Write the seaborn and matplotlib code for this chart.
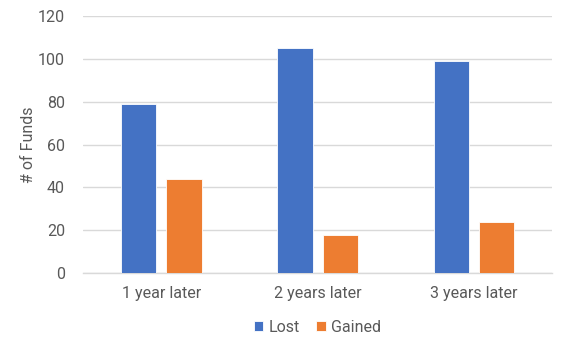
import matplotlib
matplotlib.use("Agg")
import matplotlib.pyplot as plt
import seaborn as sns
import pandas as pd

# Data
periods = ["1 year later", "2 years later", "3 years later"]
lost = [79, 105, 99]
gained = [44, 18, 24]
series_names = ["Lost", "Gained"]
y_ticks = [0, 20, 40, 60, 80, 100, 120]

df = pd.DataFrame({
    "period": periods * 2,
    "count": lost + gained,
    "status": [series_names[0]] * 3 + [series_names[1]] * 3,
})

sns.set_style("white")
plt.rcParams["font.family"] = ["Roboto", "DejaVu Sans"]
text_color = "#595959"
fs = 11.5

fig = plt.figure(figsize=(5.65, 3.51), dpi=100)
ax = fig.add_axes([0.147, 0.222, 0.83, 0.732])

sns.barplot(data=df, x="period", y="count", hue="status",
            palette=["#4472C4", "#ED7D31"], saturation=1,
            width=0.58, gap=0.22, edgecolor="white", linewidth=0.6,
            ax=ax, zorder=3)

ax.set_ylim(0, 120)
ax.set_xlim(-0.5, 2.5)
ax.set_yticks(y_ticks)
ax.yaxis.grid(True, color="#D9D9D9", linewidth=1, zorder=0)
ax.set_axisbelow(True)
for side in ["top", "right", "left"]:
    ax.spines[side].set_visible(False)
ax.spines["bottom"].set_color("#D9D9D9")
ax.spines["bottom"].set_linewidth(1)
ax.tick_params(axis="both", length=0, labelsize=fs, colors=text_color)
ax.tick_params(axis="y", pad=13)
ax.tick_params(axis="x", pad=9)
ax.set_xlabel("")
ax.set_ylabel("# of Funds", fontsize=fs, color=text_color, labelpad=1)

ax.legend(loc="center", bbox_to_anchor=(0.5, -0.21), ncol=2,
          frameon=False, fontsize=fs, handlelength=0.6, handleheight=0.6,
          handletextpad=0.35, columnspacing=1.0, labelcolor=text_color)

fig.savefig("out.png", dpi=100)
